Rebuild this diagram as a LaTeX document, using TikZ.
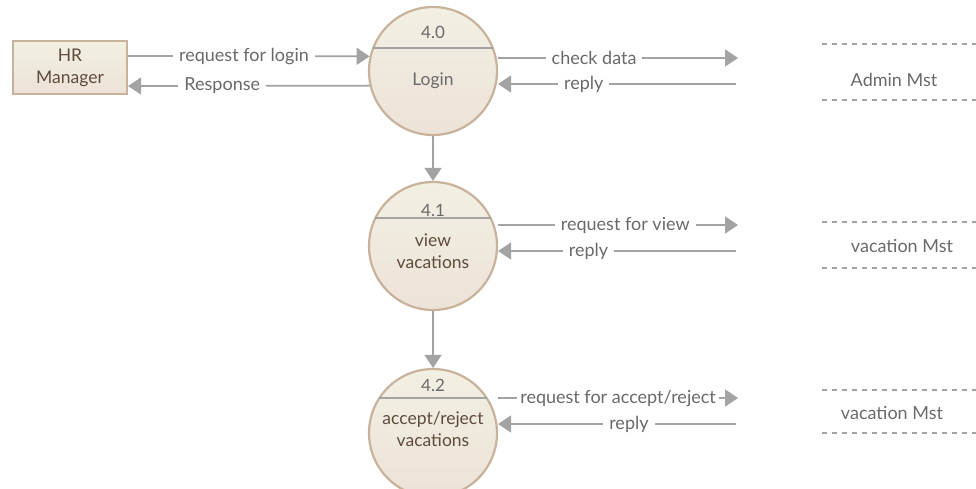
\documentclass[tikz,border=0pt]{standalone}
\usepackage{fontspec}
\setmainfont{Lato}
\usetikzlibrary{arrows.meta}
\definecolor{Edge}{HTML}{C9B29B}
\definecolor{Flow}{HTML}{A3A3A3}
\definecolor{Ink}{HTML}{6A6A6A}
\definecolor{Brown}{HTML}{5E4B3C}
\definecolor{TopC}{HTML}{F2F0E3}
\definecolor{BotC}{HTML}{EDE2D8}
\tikzset{
  proc/.style={circle, draw=Edge, line width=2.2pt, top color=TopC, bottom color=BotC, minimum size=128pt, inner sep=0pt},
  ent/.style={draw=Edge, line width=2.2pt, top color=TopC, bottom color=BotC, minimum width=114pt, minimum height=53pt, inner sep=0pt},
  divider/.style={draw=Flow, line width=1.2pt},
  flow/.style={draw=Flow, line width=1.8pt, -{Triangle[length=13pt,width=17pt]}},
  lbl/.style={fill=white, text=Ink, inner xsep=6pt, inner ysep=3pt, font=\fontsize{18}{20}\selectfont},
  ptext/.style={text=Brown, align=center, font=\fontsize{17.5}{22}\selectfont},
  pnum/.style={text=Ink, font=\fontsize{17}{19}\selectfont},
  store/.style={draw=Flow, line width=1.3pt, dash pattern=on 5pt off 5pt},
  stext/.style={text=Ink, font=\fontsize{18}{20}\selectfont}
}

\begin{document}
\begin{tikzpicture}[x=1pt, y=-1pt]%
\useasboundingbox (0,0) rectangle (976,488);%
% external entity
\node[ent] (hr) at (70,67.5) {};%
\node[ptext] (hrtext) at (70,68) {HR\\Manager};%
% processes
\node[proc] (p40) at (433,71) {};%
\node[proc] (p41) at (433,246) {};%
\node[proc] (p42) at (433,433) {};%
\draw[divider] (p40.center) ++(-59.7,-23) -- ++(119.4,0);%
\draw[divider] (p41.center) ++(-57.6,-28) -- ++(115.2,0);%
\draw[divider] (p42.center) ++(-54.2,-35) -- ++(108.4,0);%
\node[pnum] (n40) at (433,32) {4.0};%
\node[pnum] (n41) at (433,210) {4.1};%
\node[pnum] (n42) at (433,385) {4.2};%
\node[ptext, text=Ink] (t40) at (433,81) {Login};%
\node[ptext] (t41) at (433,251) {view\\vacations};%
\node[ptext] (t42) at (433,429) {accept/reject\\vacations};%
% data stores
\draw[store] (822,44) -- (976,44);%
\draw[store] (822,100) -- (976,100);%
\node[stext] (ds1) at (894,80) {Admin Mst};%
\draw[store] (822,222) -- (976,222);%
\draw[store] (822,268) -- (976,268);%
\node[stext] (ds2) at (902,246) {vacation Mst};%
\draw[store] (822,390) -- (976,390);%
\draw[store] (822,433) -- (976,433);%
\node[stext] (ds3) at (892,413) {vacation Mst};%
% flow end points
\coordinate (a40) at (738,58);%
\coordinate (b40) at (736,84);%
\coordinate (a41) at (738,225);%
\coordinate (b41) at (736,251);%
\coordinate (a42) at (738,398);%
\coordinate (b42) at (736,424);%
% flows
\draw[flow] (hr.east |- 0,56) -- node[lbl, pos=0.48] {request for login} (p40.167);%
\draw[flow] (p40.-167) -- node[lbl, pos=0.61] {Response} (hr.east |- 0,86);%
\draw[flow] (p40.east |- a40) -- node[lbl, pos=0.40] {check data} (a40);%
\draw[flow] (b40) -- node[lbl, pos=0.64] {reply} (p40.east |- b40);%
\draw[flow] (p40.south) -- (p41.north);%
\draw[flow] (p41.east |- a41) -- node[lbl, pos=0.53] {request for view} (a41);%
\draw[flow] (b41) -- node[lbl, pos=0.62] {reply} (p41.east |- b41);%
\draw[flow] (p41.south) -- (p42.north);%
\draw[flow] (p42.east |- a42) -- node[lbl, pos=0.50, inner xsep=3pt] {request for accept/reject} (a42);%
\draw[flow] (b42) -- node[lbl, pos=0.45] {reply} (p42.east |- b42);%
\end{tikzpicture}
\end{document}
